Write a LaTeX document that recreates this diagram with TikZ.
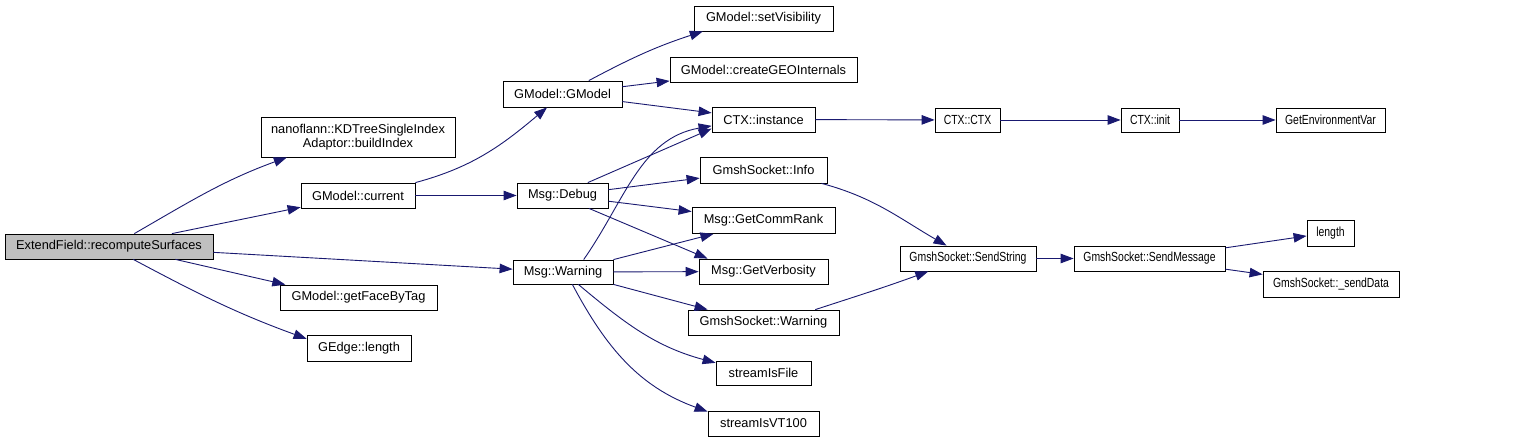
\documentclass[tikz,border=0pt]{standalone}
\usepackage{fontspec}
\setmainfont{Liberation Sans}
\newfontfamily\narrowfont[FakeStretch=0.79]{Liberation Sans}
\usetikzlibrary{arrows.meta}
\definecolor{edgeblue}{RGB}{25,25,112}
\definecolor{rootgrey}{RGB}{191,191,191}
\tikzset{
  fn/.style={draw=black, line width=0.8pt, rectangle, inner sep=0pt, fill=white, align=center,
    font=\fontsize{12.8}{14.5}\selectfont, text=black},
  nfn/.style={fn, font=\narrowfont\fontsize{13.2}{14.5}\selectfont},
  root/.style={fn, fill=rootgrey},
  call/.style={draw=edgeblue, line width=0.9pt, -{Triangle[length=13pt,width=9.5pt]}}
}
\begin{document}
\begin{tikzpicture}[x=1pt, y=-1pt]
\useasboundingbox[fill=white] (0,0) rectangle (1528,443);
% column 0
\node[root, minimum width=208pt, minimum height=25pt] (ef) at (109,246.5) {ExtendField::recomputeSurfaces};
% column 1
\node[fn, minimum width=194pt, minimum height=40pt] (nano) at (358,137) {nanoflann::KDTreeSingleIndex\\Adaptor::buildIndex};
\node[fn, minimum width=114pt, minimum height=25pt] (cur) at (358,195.5) {GModel::current};
\node[fn, minimum width=157pt, minimum height=25pt] (face) at (358.5,297.5) {GModel::getFaceByTag};
\node[fn, minimum width=104pt, minimum height=26pt] (gel) at (359,348) {GEdge::length};
% column 2
\node[fn, minimum width=119pt, minimum height=26pt] (gm) at (562.5,94) {GModel::GModel};
\node[fn, minimum width=91pt, minimum height=25pt] (dbg) at (562.5,195.5) {Msg::Debug};
\node[fn, minimum width=100pt, minimum height=24pt] (warn) at (563,272) {Msg::Warning};
% column 3
\node[fn, minimum width=139pt, minimum height=25pt] (setv) at (763.5,18.5) {GModel::setVisibility};
\node[fn, minimum width=187pt, minimum height=25pt] (geo) at (763.5,69.5) {GModel::createGEOInternals};
\node[fn, minimum width=103pt, minimum height=25pt] (ctxi) at (763.5,119.5) {CTX::instance};
\node[fn, minimum width=127pt, minimum height=26pt] (info) at (763.5,170) {GmshSocket::Info};
\node[fn, minimum width=143pt, minimum height=26pt] (rank) at (763.5,220.5) {Msg::GetCommRank};
\node[fn, minimum width=129pt, minimum height=25pt] (verb) at (763.5,271.5) {Msg::GetVerbosity};
\node[fn, minimum width=151pt, minimum height=25pt] (gsw) at (763.5,322.5) {GmshSocket::Warning};
\node[fn, minimum width=95pt, minimum height=24pt] (file) at (763.5,373) {streamIsFile};
\node[fn, minimum width=111pt, minimum height=25pt] (vt) at (763.5,423.5) {streamIsVT100};
% column 4
\node[nfn, minimum width=65pt, minimum height=24pt] (cctx) at (967.5,120) {CTX::CTX};
\node[nfn, minimum width=136pt, minimum height=25pt] (ss) at (968,258.5) {GmshSocket::SendString};
% column 5
\node[nfn, minimum width=58pt, minimum height=24pt] (init) at (1150,120) {CTX::init};
\node[nfn, minimum width=151pt, minimum height=25pt] (sm) at (1149.5,258.5) {GmshSocket::SendMessage};
% column 6
\node[nfn, minimum width=109pt, minimum height=24pt] (genv) at (1330.5,120) {GetEnvironmentVar};
\node[nfn, minimum width=47pt, minimum height=26pt] (len) at (1330.5,233) {length};
\node[nfn, minimum width=136pt, minimum height=26pt] (sd) at (1331,284) {GmshSocket::\_sendData};

% edges
\draw[call] (ef.27) to[out=30,in=200] (nano.196);
\draw[call] (ef) -- (cur);
\draw[call] (ef) -- (warn);
\draw[call] (ef.-11) -- (face.170);
\draw[call] (ef.-28) to[out=-28,in=160] (gel.170);

\draw[call] (cur.north east) to[out=15,in=220] (gm.221);
\draw[call] (cur) -- (dbg);

\draw[call] (gm.27) to[out=28,in=198] (setv.192);
\draw[call] (gm) -- (geo);
\draw[call] (gm) -- (ctxi);

\draw[call] (dbg.27) -- (ctxi.190);
\draw[call] (dbg) -- (info);
\draw[call] (dbg) -- (rank);
\draw[call] (dbg.-26) -- (verb.167);

\draw[call] (warn.31) to[out=55,in=190] (ctxi.187);
\draw[call] (warn.north east) -- (rank.195);
\draw[call] (warn) -- (verb);
\draw[call] (warn.south east) -- (gsw.167);
\draw[call] (warn.-39) to[out=-40,in=165] (file.168);
\draw[call] (warn.-53) to[out=-62,in=160] (vt.168);

\draw[call] (ctxi) -- (cctx);
\draw[call] (cctx) -- (init);
\draw[call] (init) -- (genv);

\draw[call] (info.-13) to[out=-15,in=150] (ss.149);
\draw[call] (gsw.14) to[out=18,in=200] (ss.198);
\draw[call] (ss) -- (sm);
\draw[call] (sm.8) -- (len.187);
\draw[call] (sm.-8) -- (sd.172);
\end{tikzpicture}
\end{document}
